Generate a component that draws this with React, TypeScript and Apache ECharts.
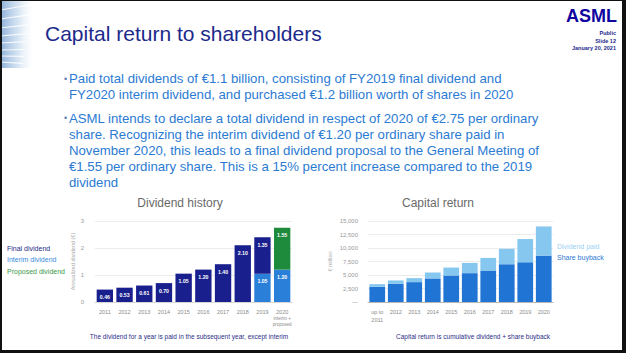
import React, { useEffect, useRef } from 'react';
import * as echarts from 'echarts';

// ---- Data: Dividend history ----
const divYears = ['2011', '2012', '2013', '2014', '2015', '2016', '2017', '2018', '2019', '2020'];
const divLastNote = 'interim +\nproposed';
const finalDividend = [0.46, 0.53, 0.61, 0.70, 1.05, 1.20, 1.40, 2.10, 1.35, null];
const interimDividend = [null, null, null, null, null, null, null, null, 1.05, 1.20];
const proposedDividend = [null, null, null, null, null, null, null, null, null, 1.55];
const divTicks = [0, 1, 2, 3];

// ---- Data: Capital return (EUR million, cumulative) ----
const capCategories = ['up to\n2011', '2012', '2013', '2014', '2015', '2016', '2017', '2018', '2019', '2020'];
const shareBuyback = [2820, 3370, 3680, 4360, 4910, 5340, 5830, 6990, 7360, 8590];
const dividendPaid = [490, 620, 740, 1100, 1470, 1900, 2330, 2890, 4300, 5400];

// ---- Texts ----
const slideTitle = 'Capital return to shareholders';
const bullet1 = [
  'Paid total dividends of €1.1 billion, consisting of FY2019 final dividend and',
  'FY2020 interim dividend, and purchased €1.2 billion worth of shares in 2020',
];
const bullet2 = [
  'ASML intends to declare a total dividend in respect of 2020 of €2.75 per ordinary',
  'share. Recognizing the interim dividend of €1.20 per ordinary share paid in',
  'November 2020, this leads to a final dividend proposal to the General Meeting of',
  '€1.55 per ordinary share. This is a 15% percent increase compared to the 2019',
  'dividend',
];
const headerLines = ['Public', 'Slide 12', 'January 20, 2021'];
const divLegend = ['Final dividend', 'Interim dividend', 'Proposed dividend'];
const capLegend = ['Dividend paid', 'Share buyback'];

const FONT = '"Liberation Sans", Arial, sans-serif';

function txt(x: number, y: number, text: string, size: number, fill: string, align = 'left', weight: any = 'normal', extra: any = {}) {
  return {
    type: 'text',
    x,
    y,
    silent: true,
    style: {
      text,
      fill,
      fontSize: size,
      fontFamily: FONT,
      fontWeight: weight,
      align,
      verticalAlign: 'middle',
      textAlign: align,
      textVerticalAlign: 'middle',
      ...extra,
    },
  };
}

export default function App() {
  const ref = useRef<HTMLDivElement>(null);

  useEffect(() => {
    document.body.style.margin = '0';
    if (!ref.current) return;
    const chart = echarts.init(ref.current, undefined, { renderer: 'svg' });

    const graphics: any[] = [];
    // top-left decoration
    graphics.push({
      type: 'rect',
      shape: { x: 0, y: 0, width: 36, height: 68 },
      silent: true,
      style: {
        fill: new echarts.graphic.LinearGradient(0, 0, 1, 0, [
          { offset: 0, color: 'rgba(125,165,210,0.9)' },
          { offset: 0.5, color: 'rgba(185,210,235,0.6)' },
          { offset: 1, color: 'rgba(255,255,255,0)' },
        ]),
      },
    });
    [10, 19, 28, 36, 43, 50, 56, 62].forEach((yy, i) => {
      graphics.push({
        type: 'line',
        silent: true,
        shape: { x1: 0, y1: yy, x2: 30 - i, y2: yy - 5 + i * 0.9 },
        style: { stroke: 'rgba(255,255,255,0.85)', lineWidth: 1.2 },
      });
    });

    // title
    graphics.push(txt(45, 33, slideTitle, 21, '#1c2a8c'));
    // ASML header
    graphics.push(txt(617, 16, 'ASML', 18, '#10069f', 'right', 'bold'));
    headerLines.forEach((t, i) => graphics.push(txt(616, 33 + i * 7.5, t, 5.5, '#1c2a8c', 'right', 'bold')));

    // bullets
    const bulletColor = '#2b7bd3';
    const lh = 16;
    graphics.push(txt(64, 78.7, '•', 9, '#5a7bb0'));
    bullet1.forEach((t, i) => graphics.push(txt(69, 78.7 + i * lh, t, 13.2, bulletColor)));
    graphics.push(txt(64, 118, '•', 9, '#5a7bb0'));
    bullet2.forEach((t, i) => graphics.push(txt(69, 118 + i * lh, t, 13.2, bulletColor)));

    // chart titles
    graphics.push(txt(180, 203, 'Dividend history', 12, '#6a6a6a', 'center'));
    graphics.push(txt(438, 203, 'Capital return', 12, '#6a6a6a', 'center'));

    // left legend
    const divColors = ['#262a86', '#3a8be0', '#3c9a4a'];
    divLegend.forEach((t, i) => graphics.push(txt(7, 248 + i * 11.8, t, 7, divColors[i])));
    // right legend
    const capColors = ['#9ad2f4', '#2c78d4'];
    capLegend.forEach((t, i) => graphics.push(txt(557, 246 + i * 11.7, t, 7, capColors[i])));

    // footnotes
    graphics.push(txt(189, 336, 'The dividend for a year is paid in the subsequent year, except interim', 6.5, '#2b2d87', 'center'));
    graphics.push(txt(473, 336, 'Capital return is cumulative dividend + share buyback', 6.5, '#2b2d87', 'center'));

    // frame
    graphics.push({ type: 'rect', silent: true, shape: { x: 0, y: 0, width: 626, height: 1 }, style: { fill: '#111' } });
    graphics.push({ type: 'rect', silent: true, shape: { x: 0, y: 0, width: 2, height: 353 }, style: { fill: '#111' } });
    graphics.push({ type: 'rect', silent: true, shape: { x: 622, y: 0, width: 4, height: 353 }, style: { fill: '#111' } });
    graphics.push({ type: 'rect', silent: true, shape: { x: 0, y: 350, width: 626, height: 3 }, style: { fill: '#111' } });

    const barLabel = {
      show: true,
      position: 'insideTop',
      distance: 5,
      color: '#ffffff',
      fontSize: 5.2,
      fontWeight: 'bold',
      formatter: (p: any) => (p.value == null ? '' : Number(p.value).toFixed(2)),
    };

    chart.setOption({
      animation: false,
      backgroundColor: '#ffffff',
      textStyle: { fontFamily: FONT },
      grid: [
        { left: 95, top: 221, width: 197, height: 81 },
        { left: 368, top: 221, width: 185, height: 81 },
      ],
      xAxis: [
        {
          type: 'category',
          gridIndex: 0,
          data: divYears,
          axisLine: { lineStyle: { color: '#d6d6d6' } },
          axisTick: { show: false },
          axisLabel: {
            fontSize: 5.5,
            color: '#8a8a8a',
            margin: 6,
            lineHeight: 7,
            interval: 0,
            formatter: (v: string, idx: number) =>
              idx === divYears.length - 1 ? v + '\n' + divLastNote.split('\n').map((s) => '{s|' + s + '}').join('\n') : v,
            rich: { s: { fontSize: 4.5, color: '#8a8a8a', lineHeight: 6.5 } },
          },
        },
        {
          type: 'category',
          gridIndex: 1,
          data: capCategories,
          axisLine: { lineStyle: { color: '#b8b8b8', width: 1 } },
          axisTick: { show: false },
          axisLabel: { fontSize: 5.5, color: '#8a8a8a', margin: 6, lineHeight: 8, interval: 0 },
        },
      ],
      yAxis: [
        {
          type: 'value',
          gridIndex: 0,
          min: divTicks[0],
          max: divTicks[divTicks.length - 1],
          interval: 1,
          axisLine: { show: false },
          axisTick: { show: false },
          splitLine: { lineStyle: { color: '#ececec' } },
          axisLabel: { fontSize: 6, color: '#9a9a9a', margin: 11 },
          name: 'Annualized dividend (€)',
          nameLocation: 'middle',
          nameGap: 19,
          nameTextStyle: { fontSize: 5.5, color: '#ababab' },
        },
        {
          type: 'value',
          gridIndex: 1,
          min: 0,
          max: 15000,
          interval: 2500,
          axisLine: { show: false },
          axisTick: { show: false },
          splitLine: { lineStyle: { color: '#ececec' } },
          axisLabel: {
            fontSize: 6,
            color: '#9a9a9a',
            margin: 10,
            formatter: (v: number) => (v === 0 ? '—' : v.toLocaleString('en-US')),
          },
          name: '€ million',
          nameLocation: 'middle',
          nameGap: 35,
          nameTextStyle: { fontSize: 5.5, color: '#ababab' },
        },
      ],
      series: [
        {
          name: 'Interim dividend',
          type: 'bar',
          xAxisIndex: 0,
          yAxisIndex: 0,
          stack: 'div',
          data: interimDividend,
          itemStyle: { color: '#2a7fd8' },
          label: barLabel,
          barCategoryGap: '17%',
        },
        {
          name: 'Final dividend',
          type: 'bar',
          xAxisIndex: 0,
          yAxisIndex: 0,
          stack: 'div',
          data: finalDividend,
          itemStyle: { color: '#1a1f8e' },
          label: barLabel,
          barCategoryGap: '17%',
        },
        {
          name: 'Proposed dividend',
          type: 'bar',
          xAxisIndex: 0,
          yAxisIndex: 0,
          stack: 'div',
          data: proposedDividend,
          itemStyle: { color: '#1e8a3c' },
          label: barLabel,
          barCategoryGap: '17%',
        },
        {
          name: 'Share buyback',
          type: 'bar',
          xAxisIndex: 1,
          yAxisIndex: 1,
          stack: 'cap',
          data: shareBuyback,
          itemStyle: { color: '#1f74d4' },
          barCategoryGap: '15%',
        },
        {
          name: 'Dividend paid',
          type: 'bar',
          xAxisIndex: 1,
          yAxisIndex: 1,
          stack: 'cap',
          data: dividendPaid,
          itemStyle: { color: '#86c7ef' },
          barCategoryGap: '15%',
        },
      ],
      graphic: { elements: graphics },
    });

    return () => chart.dispose();
  }, []);

  return <div ref={ref} style={{ width: 626, height: 353 }} />;
}
